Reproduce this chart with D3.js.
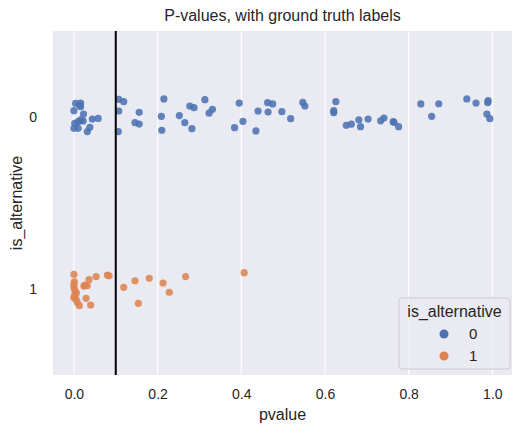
<!DOCTYPE html>
<html>
<head>
<meta charset="utf-8">
<script src="https://cdn.jsdelivr.net/npm/d3@7"></script>
<style>
body { margin: 0; background: #fff; }
text { font-family: "Liberation Sans", Arial, sans-serif; fill: #262626; }
</style>
</head>
<body>
<svg width="527" height="434"></svg>
<script>
var margin = {top: 31, right: 15, bottom: 59, left: 53};
var width = 527 - margin.left - margin.right;
var height = 434 - margin.top - margin.bottom;

// data: p-values with the stripplot jitter
var categories = ["0", "1"];
var pvalue0 = [0.004, 0.016, 0.013, 0.000, 0.023, 0.044, 0.058, 0.002, 0.010, 0.016, 0.022, 0.000, 0.010, 0.038, 0.032, 0.016,
  0.107, 0.119, 0.107, 0.106, 0.156, 0.146, 0.156, 0.215, 0.209, 0.210, 0.277, 0.287, 0.252, 0.265, 0.282, 0.313, 0.331, 0.323,
  0.395, 0.404, 0.384, 0.435, 0.440, 0.463, 0.475, 0.464, 0.497, 0.518, 0.547, 0.552, 0.626, 0.621, 0.621, 0.651, 0.663, 0.681,
  0.703, 0.685, 0.733, 0.741, 0.763, 0.765, 0.776, 0.829, 0.872, 0.855, 0.939, 0.961, 0.990, 0.989, 0.987, 0.994];
var jitter0 = [-0.080, -0.081, -0.070, -0.037, -0.017, 0.012, 0.008, 0.037, 0.027, 0.017, 0.023, 0.066, 0.066, 0.060, 0.085, -0.060,
  -0.103, -0.089, -0.035, 0.085, -0.027, 0.033, 0.041, -0.105, -0.004, 0.077, -0.064, -0.054, -0.008, 0.033, 0.068, -0.101, -0.045, -0.022,
  -0.081, 0.025, 0.062, 0.081, -0.035, -0.083, -0.076, -0.029, -0.031, 0.010, -0.085, -0.064, -0.089, -0.037, -0.025, 0.048, 0.042, 0.016,
  0.012, 0.056, 0.022, 0.006, 0.027, 0.031, 0.056, -0.076, -0.077, -0.004, -0.105, -0.081, -0.095, -0.083, -0.017, 0.010];
var pvalue1 = [0.000, 0.001, 0.000, 0.000, 0.002, 0.006, 0.000, 0.005, 0.008, 0.013, 0.026, 0.024, 0.032, 0.036, 0.053, 0.080,
  0.084, 0.029, 0.040, 0.119, 0.146, 0.180, 0.213, 0.228, 0.154, 0.267, 0.407, 0.001];
var jitter1 = [-0.085, -0.042, -0.027, -0.008, 0.006, 0.022, 0.051, 0.058, 0.077, 0.097, -0.023, -0.017, -0.019, -0.054, -0.072, -0.081,
  -0.077, 0.054, 0.093, -0.010, -0.048, -0.062, -0.035, 0.019, 0.083, -0.072, -0.095, 0.040];
var xTicks = [0, 0.2, 0.4, 0.6, 0.8, 1.0];
var threshold = 0.1;
var colors = ["#4c72b0", "#dd8452"];

var points = [];
pvalue0.forEach(function(p, i){ points.push({p: p, y: 0 + jitter0[i], c: 0}); });
pvalue1.forEach(function(p, i){ points.push({p: p, y: 1 + jitter1[i], c: 1}); });

// scales
var xScale = d3.scaleLinear().domain([-0.05, 1.047]).range([0, width]);
var yScale = d3.scaleLinear().domain([-0.5, 1.5]).range([0, height]);

var svg = d3.select('svg');
var g = svg.append('g').attr('transform', 'translate(' + margin.left + ',' + margin.top + ')');

g.append('rect').attr('width', width).attr('height', height).attr('fill', '#eaeaf2');

// grid
g.selectAll('.grid')
  .data(xTicks)
  .enter()
  .append('line')
  .attr('x1', d => xScale(d)).attr('x2', d => xScale(d))
  .attr('y1', 0).attr('y2', height)
  .attr('stroke', '#fff').attr('stroke-width', 1.1);

var xAxis = d3.axisBottom(xScale).tickValues(xTicks).tickFormat(d3.format('.1f')).tickSize(0).tickPadding(14);
var xAxisGroup = g.append('g').attr('transform', 'translate(0,' + height + ')').call(xAxis);
xAxisGroup.select('.domain').remove();
xAxisGroup.selectAll('text').style('font-size', '14px').attr('fill', '#262626');

var yAxis = d3.axisLeft(yScale).tickValues([0, 1]).tickFormat(d => categories[d]).tickSize(0).tickPadding(16);
var yAxisGroup = g.append('g').call(yAxis);
yAxisGroup.select('.domain').remove();
yAxisGroup.selectAll('text').style('font-size', '14px').attr('fill', '#262626');

// points
g.selectAll('.pt')
  .data(points)
  .enter()
  .append('circle')
  .attr('cx', d => xScale(d.p))
  .attr('cy', d => yScale(d.y))
  .attr('r', 3.6)
  .attr('fill', d => colors[d.c])
  .attr('fill-opacity', 0.88);

// threshold line
g.append('line')
  .attr('x1', xScale(threshold)).attr('x2', xScale(threshold))
  .attr('y1', 0).attr('y2', height)
  .attr('stroke', '#000').attr('stroke-width', 2);

// labels
svg.append('text').attr('x', margin.left + width / 2).attr('y', 21)
  .attr('text-anchor', 'middle').style('font-size', '16px').text('P-values, with ground truth labels');
svg.append('text').attr('x', margin.left + width / 2).attr('y', 420)
  .attr('text-anchor', 'middle').style('font-size', '16px').text('pvalue');
svg.append('text').attr('transform', 'translate(22,' + (margin.top + height / 2) + ') rotate(-90)')
  .attr('text-anchor', 'middle').style('font-size', '16px').text('is_alternative');

// legend
var lg = svg.append('g').attr('transform', 'translate(399,298)');
lg.append('rect').attr('width', 111).attr('height', 71).attr('rx', 3)
  .attr('fill', '#eaeaf2').attr('fill-opacity', 0.8).attr('stroke', '#cccccc').attr('stroke-width', 1);
lg.append('text').attr('x', 55.5).attr('y', 19).attr('text-anchor', 'middle').style('font-size', '16px').text('is_alternative');
categories.forEach(function(c, i){
  lg.append('circle').attr('cx', 45).attr('cy', 36 + i * 22).attr('r', 4.5).attr('fill', colors[i]);
  lg.append('text').attr('x', 70).attr('y', 41 + i * 22).style('font-size', '15px').text(c);
});
</script>
</body>
</html>
